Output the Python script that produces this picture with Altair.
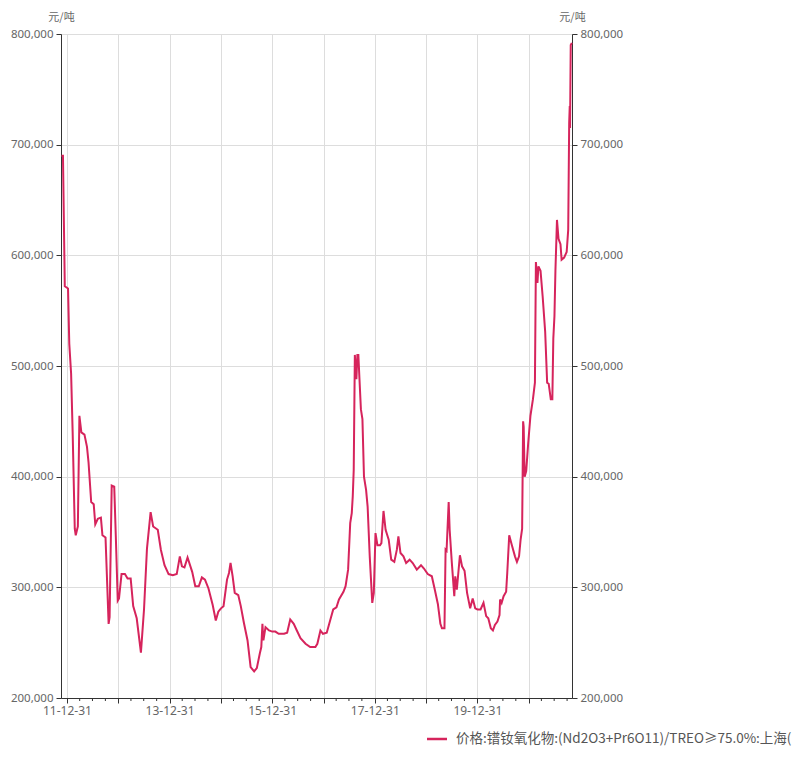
import altair as alt
import pandas as pd

# Price series (元/吨)
dates = [
    "2011-11-22", "2011-12-03", "2011-12-16", "2012-01-08", "2012-01-17", "2012-01-30",
    "2012-02-10", "2012-02-25", "2012-03-03", "2012-03-18", "2012-03-29", "2012-04-12",
    "2012-05-04", "2012-05-22", "2012-06-02", "2012-06-21", "2012-07-09", "2012-07-20",
    "2012-08-07", "2012-08-29", "2012-09-09", "2012-10-01", "2012-10-23", "2012-10-30",
    "2012-11-14", "2012-12-02", "2012-12-13", "2012-12-27", "2013-01-05", "2013-01-23",
    "2013-02-16", "2013-03-07", "2013-03-29", "2013-04-16", "2013-05-11", "2013-06-10",
    "2013-07-02", "2013-07-23", "2013-08-18", "2013-09-05", "2013-10-08", "2013-10-30",
    "2013-11-25", "2013-12-24", "2014-01-23", "2014-02-20", "2014-03-14", "2014-03-29",
    "2014-04-16", "2014-05-08", "2014-06-10", "2014-07-02", "2014-07-27", "2014-08-18",
    "2014-09-09", "2014-10-04", "2014-11-03", "2014-11-25", "2014-12-13", "2015-01-01",
    "2015-01-19", "2015-02-13", "2015-02-27", "2015-03-10", "2015-03-25", "2015-04-09",
    "2015-05-04", "2015-05-22", "2015-06-13", "2015-07-09", "2015-07-31", "2015-08-25",
    "2015-09-13", "2015-10-04", "2015-10-15", "2015-10-23", "2015-10-30", "2015-11-14",
    "2015-12-09", "2016-01-01", "2016-01-23", "2016-02-16", "2016-03-25", "2016-04-16",
    "2016-05-08", "2016-06-02", "2016-06-24", "2016-07-20", "2016-08-25", "2016-09-27",
    "2016-11-03", "2016-11-17", "2016-12-09", "2016-12-27", "2017-01-23", "2017-02-16",
    "2017-03-10", "2017-04-02", "2017-04-20", "2017-05-22", "2017-06-06", "2017-06-24",
    "2017-07-09", "2017-07-20", "2017-07-27", "2017-08-03", "2017-08-11", "2017-08-22",
    "2017-08-29", "2017-09-05", "2017-09-13", "2017-09-23", "2017-10-04", "2017-10-15",
    "2017-10-30", "2017-11-10", "2017-11-25", "2017-12-13", "2017-12-24", "2018-01-05",
    "2018-01-19", "2018-02-06", "2018-02-16", "2018-03-03", "2018-03-18", "2018-04-09",
    "2018-04-27", "2018-05-19", "2018-06-06", "2018-06-17", "2018-07-02", "2018-07-23",
    "2018-08-11", "2018-09-05", "2018-09-27", "2018-10-26", "2018-11-25", "2018-12-16",
    "2019-01-12", "2019-02-10", "2019-03-03", "2019-03-25", "2019-04-12", "2019-04-23",
    "2019-05-11", "2019-05-19", "2019-05-26", "2019-06-10", "2019-06-17", "2019-07-02",
    "2019-07-20", "2019-07-27", "2019-08-07", "2019-08-29", "2019-09-13", "2019-10-01",
    "2019-10-19", "2019-11-10", "2019-11-28", "2019-12-16", "2020-01-01", "2020-01-23",
    "2020-02-13", "2020-03-03", "2020-03-18", "2020-04-05", "2020-04-20", "2020-05-04",
    "2020-05-22", "2020-06-06", "2020-06-10", "2020-06-21", "2020-07-05", "2020-07-23",
    "2020-07-31", "2020-08-14", "2020-09-02", "2020-09-24", "2020-10-08", "2020-10-23",
    "2020-11-03", "2020-11-14", "2020-11-21", "2020-11-25", "2020-12-02", "2020-12-13",
    "2020-12-27", "2021-01-12", "2021-01-30", "2021-02-13", "2021-02-20", "2021-03-03",
    "2021-03-10", "2021-03-25", "2021-04-09", "2021-04-27", "2021-05-11", "2021-05-22",
    "2021-06-06", "2021-06-17", "2021-06-24", "2021-07-02", "2021-07-09", "2021-07-20",
    "2021-07-31", "2021-08-14", "2021-08-22", "2021-09-09", "2021-09-27", "2021-10-08",
    "2021-10-15", "2021-10-19", "2021-10-21", "2021-10-26", "2021-11-03",
]
prices = [
    690000, 690000, 572000, 570000, 520000, 493000,
    440000, 353000, 347000, 355000, 455000, 440000,
    438000, 427000, 413000, 377000, 375000, 357000,
    362000, 363000, 347000, 345000, 267000, 273000,
    392000, 391000, 347000, 288000, 290000, 312000,
    312000, 308000, 308000, 283000, 272000, 241000,
    280000, 335000, 368000, 355000, 352000, 334000,
    320000, 312000, 311000, 312000, 328000, 319000,
    318000, 327000, 314000, 301000, 301000, 309000,
    307000, 299000, 284000, 270000, 278000, 281000,
    283000, 307000, 313000, 322000, 310000, 295000,
    293000, 283000, 268000, 252000, 228000, 224000,
    227000, 240000, 246000, 267000, 252000, 264000,
    261000, 260000, 260000, 258000, 258000, 259000,
    271000, 267000, 261000, 254000, 249000, 246000,
    246000, 249000, 261000, 258000, 259000, 270000,
    280000, 282000, 289000, 296000, 301000, 316000,
    358000, 367000, 382000, 406000, 510000, 488000,
    510000, 510000, 488000, 461000, 452000, 400000,
    388000, 373000, 328000, 286000, 295000, 349000,
    338000, 338000, 340000, 369000, 352000, 343000,
    325000, 323000, 334000, 346000, 331000, 328000,
    322000, 325000, 322000, 316000, 320000, 317000,
    312000, 310000, 298000, 285000, 267000, 263000,
    263000, 334000, 333000, 377000, 352000, 323000,
    292000, 310000, 298000, 329000, 319000, 315000,
    295000, 281000, 290000, 281000, 280000, 280000,
    286000, 274000, 272000, 263000, 261000, 266000,
    269000, 275000, 289000, 286000, 292000, 296000,
    313000, 347000, 338000, 328000, 323000, 328000,
    343000, 353000, 450000, 445000, 400000, 405000,
    430000, 455000, 470000, 485000, 594000, 575000,
    590000, 586000, 563000, 531000, 485000, 484000,
    470000, 470000, 525000, 545000, 586000, 632000,
    615000, 610000, 596000, 598000, 603000, 623000,
    720000, 735000, 715000, 790000, 792000,
]

year_ticks = [2011, 2012, 2013, 2014, 2015, 2016, 2017, 2018, 2019, 2020]
y_ticks = [200000, 300000, 400000, 500000, 600000, 700000, 800000]
unit_label = "元/吨"
legend_label = "价格:镨钕氧化物:(Nd2O3+Pr6O11)/TREO≥75.0%:上海(日)"

LINE_COLOR = "#d6245c"
LABEL_COLOR = "#666666"
AXIS_COLOR = "#333333"
GRID_COLOR = "#dddddd"
FONT = "Noto Sans"
CJK = "Noto Sans CJK SC"

W, H = 511, 664

df = pd.DataFrame({"date": dates, "price": prices})

minor_ticks = [f"{y}-{md}" for y in range(2012, 2022) for md in ("03-31", "06-30", "09-30")]
minor_df = pd.DataFrame({"date": minor_ticks})
legend_df = pd.DataFrame({"label": [legend_label]})

x_scale = alt.Scale(
    type="utc",
    domain=[alt.DateTime(year=2011, month=11, date=19, utc=True),
            alt.DateTime(year=2021, month=11, date=4, utc=True)],
    nice=False,
)
y_scale = alt.Scale(domain=[200000, 800000], nice=False, zero=False)

x_axis = alt.Axis(
    values=[alt.DateTime(year=y, month=12, date=31, utc=True) for y in year_ticks],
    labelExpr="utcyear(datum.value) % 2 == 1 ? utcFormat(datum.value, '%y-%m-%d') : ''",
    title=None,
    grid=True,
    gridColor=GRID_COLOR,
    domainColor=AXIS_COLOR,
    tickColor=AXIS_COLOR,
    tickSize=5,
    labelColor=LABEL_COLOR,
    labelFont=FONT,
    labelFontSize=12,
    labelPadding=2,
    labelFlush=False,
    labelOverlap=False,
)

def y_axis(orient, grid):
    return alt.Axis(
        orient=orient,
        values=y_ticks,
        format=",.0f",
        grid=grid,
        gridColor=GRID_COLOR,
        domainColor=AXIS_COLOR,
        tickColor=AXIS_COLOR,
        tickSize=5,
        labelColor=LABEL_COLOR,
        labelFont=FONT,
        labelFontSize=11.5,
        labelPadding=3,
        title=unit_label,
        titleAngle=0,
        titleX=0,
        titleY=-17,
        titleAlign="center",
        titleBaseline="middle",
        titleFont=CJK,
        titleFontSize=11,
        titleFontWeight="normal",
        titleColor=LABEL_COLOR,
    )

base = alt.Chart(df)

line_left = base.mark_line(color=LINE_COLOR, strokeWidth=2, interpolate="linear").encode(
    x=alt.X("date:T", scale=x_scale, axis=x_axis),
    y=alt.Y("price:Q", scale=y_scale, axis=y_axis("left", True)),
)

line_right = base.mark_line(opacity=0).encode(
    x=alt.X("date:T", scale=x_scale),
    y=alt.Y("price:Q", scale=y_scale, axis=y_axis("right", False)),
)

minor = alt.Chart(minor_df).mark_rule(color=AXIS_COLOR, strokeWidth=1).encode(
    x=alt.X("date:T", scale=x_scale),
    y=alt.value(H),
    y2=alt.value(H + 3),
)

legend_line = alt.Chart(legend_df).mark_rule(color=LINE_COLOR, strokeWidth=2.5).encode(
    x=alt.value(366), x2=alt.value(386), y=alt.value(705)
)
legend_text = alt.Chart(legend_df).mark_text(
    align="left", baseline="middle", font=CJK, fontSize=13.5, color="#555555"
).encode(x=alt.value(395), y=alt.value(705), text="label:N")

chart = (
    alt.layer(line_left, minor, legend_line, legend_text, line_right)
    .resolve_scale(y="independent")
    .properties(
        width=W,
        height=H,
        autosize=alt.AutoSizeParams(type="none"),
        padding={"left": 53, "top": 26, "right": 220, "bottom": 52},
    )
    .configure_view(stroke=None)
    .configure(background="white")
)

chart.save("out.html", embed_options={"renderer": "svg", "actions": False})
